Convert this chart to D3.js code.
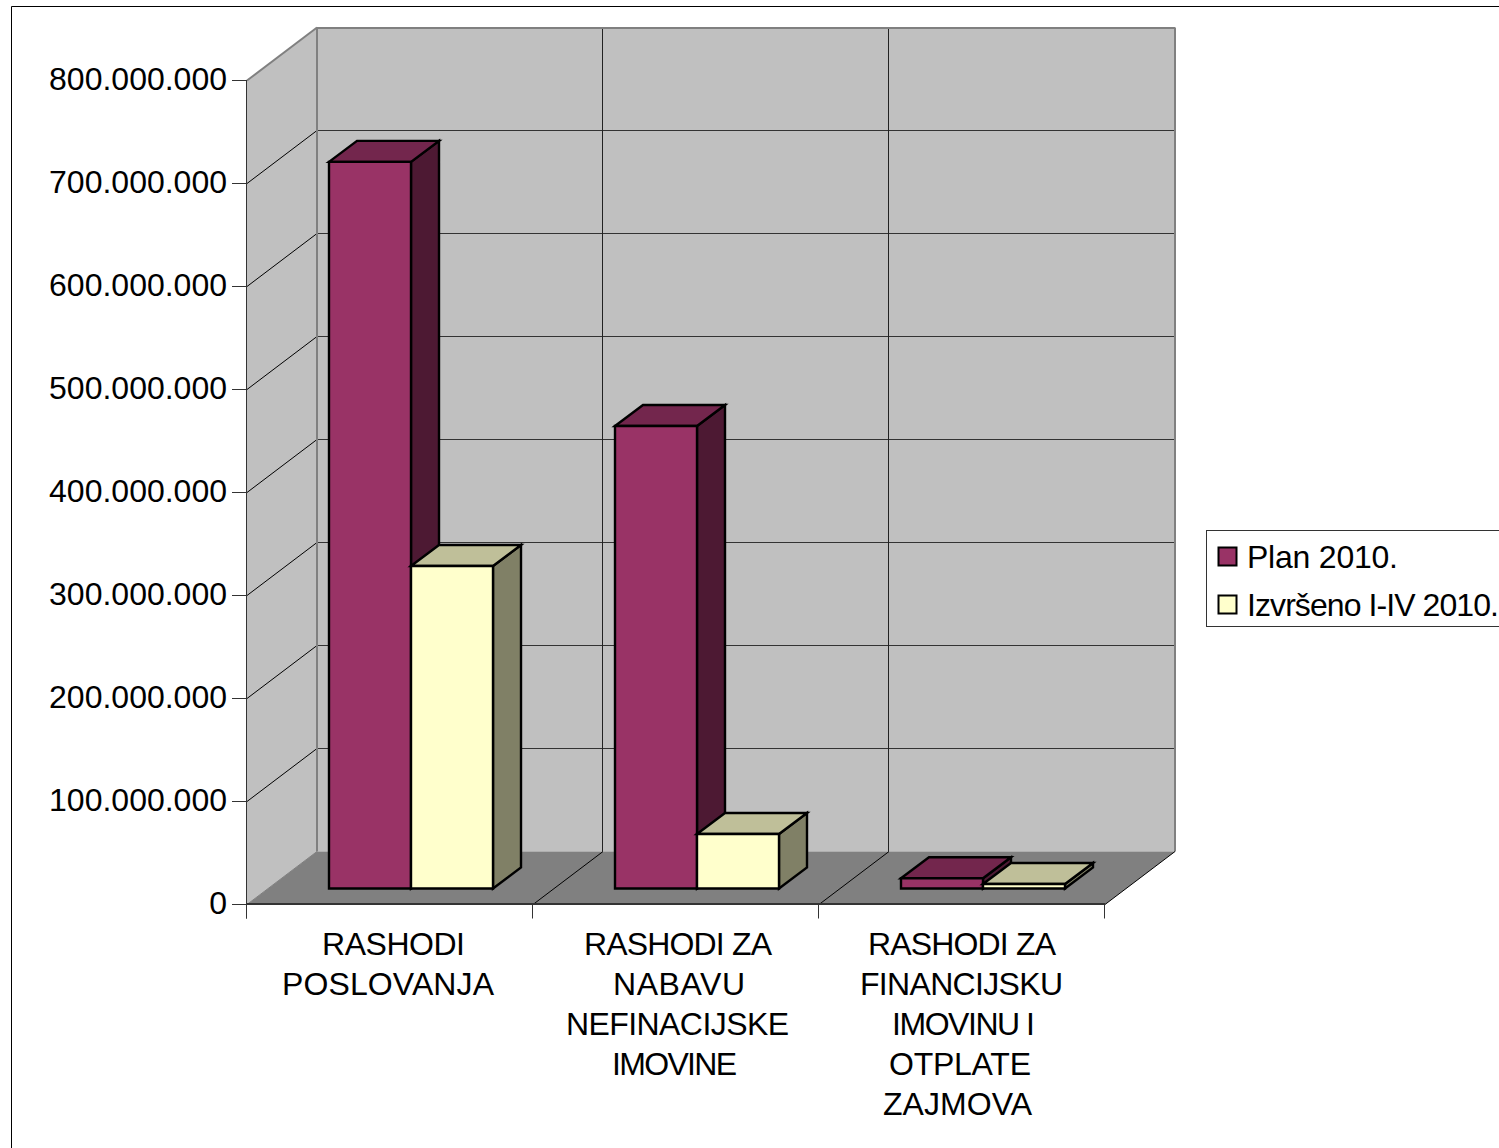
<!DOCTYPE html>
<html><head><meta charset="utf-8">
<script src="https://cdn.jsdelivr.net/npm/d3@7/dist/d3.min.js"></script>
<style>html,body{margin:0;padding:0;background:#fff;overflow:hidden}svg{display:block}text{font-family:"Liberation Sans",Arial,sans-serif;fill:#000}</style>
</head><body>
<script>
const categories = ["RASHODI POSLOVANJA","RASHODI ZA NABAVU NEFINACIJSKE IMOVINE","RASHODI ZA FINANCIJSKU IMOVINU I OTPLATE ZAJMOVA"];
const categoryLines = [["RASHODI","POSLOVANJA"],["RASHODI ZA","NABAVU","NEFINACIJSKE","IMOVINE"],["RASHODI ZA","FINANCIJSKU","IMOVINU I","OTPLATE","ZAJMOVA"]];
const seriesNames = ["Plan 2010.","Izvršeno I-IV 2010."];
const plan2010 = [705500000,449000000,9900000];
const izvrseno = [313100000,52900000,4400000];
const tickValues = [0,100000000,200000000,300000000,400000000,500000000,600000000,700000000,800000000];
const tickLabels = ["0","100.000.000","200.000.000","300.000.000","400.000.000","500.000.000","600.000.000","700.000.000","800.000.000"];

// label line placement: [left, width] per wrapped line
const categoryLineBoxes = [[[322,143],[282,212]],[[584,188],[613,132],[566,223],[612,125]],[[868,188],[860,203],[892,143],[889,142],[883,149]]];
const legendBoxes = [151,252];

const W=1499,H=1148;
const x0=247,x1=1105,yBase=904.5,yTop=80.5,DX=70,DY=53;
const y=d3.scaleLinear().domain([0,800000000]).range([yBase,yTop]);
const xBand=d3.scaleBand().domain(categories).range([x0,x1]);
const xSeries=d3.scaleBand().domain(seriesNames).range([61,225]);
const fills=[{f:"#993366",t:"#73264D",s:"#4D1933"},{f:"#FFFFCC",t:"#BFBF99",s:"#808066"}];
const svg=d3.select("body").append("svg").attr("width",W).attr("height",H);
const poly=(pts,fill,stroke,sw)=>svg.append("polygon").attr("points",pts.map(p=>p.join(",")).join(" ")).attr("fill",fill).attr("stroke",stroke||"none").attr("stroke-width",sw||0).attr("stroke-linejoin","miter");
const line=(a,b,c,sw)=>svg.append("line").attr("x1",a[0]).attr("y1",a[1]).attr("x2",b[0]).attr("y2",b[1]).attr("stroke",c).attr("stroke-width",sw);

// outer frame
svg.append("path").attr("d",`M${W},6.5H11.5V${H}`).attr("fill","none").attr("stroke","#000").attr("stroke-width",1);

// walls
poly([[x0,yTop],[x0+DX,yTop-DY],[x0+DX,yBase-DY],[x0,yBase]],"#C0C0C0");
poly([[x0+DX,yTop-DY],[x1+DX,yTop-DY],[x1+DX,yBase-DY],[x0+DX,yBase-DY]],"#C0C0C0");
poly([[x0,yBase],[x0+DX,yBase-DY],[x1+DX,yBase-DY],[x1,yBase]],"#808080");

// gridlines
tickValues.forEach((v,i)=>{
  if(i>0&&i<tickValues.length-1){
    line([x0,y(v)],[x0+DX,y(v)-DY],"#000",1);
    line([x0+DX,y(v)-DY],[x1+DX,y(v)-DY],"#333",1);
  }
});
categories.forEach((c,i)=>{
  if(i>0){
    const xx=xBand(c);
    line([xx+DX-.5,yTop-DY],[xx+DX-.5,yBase-DY],"#222",1);
    line([xx,yBase],[xx+DX,yBase-DY],"#000",1);
  }
});
// wall borders
line([x0,yTop],[x0+DX,yTop-DY],"#808080",2);
line([x0+DX,yTop-DY+.5],[x1+DX,yTop-DY+.5],"#808080",2);
line([x1+DX,yTop-DY],[x1+DX,yBase-DY],"#808080",2);
line([x0+DX,yTop-DY],[x0+DX,yBase-DY],"#808080",2);
line([x0,yBase],[x0+DX,yBase-DY],"#808080",1);
line([x1,yBase],[x1+DX,yBase-DY],"#000",1);

// axes
line([x0-.5,yTop],[x0-.5,yBase+14],"#333",1);
line([x0,yBase-.5],[x1,yBase-.5],"#333",2);
tickValues.forEach((v,i)=>{
  line([x0-15,y(v)],[x0,y(v)],"#333",1);
  svg.append("text").attr("x",227).attr("y",y(v)).attr("dy","0.31em").attr("text-anchor","end").attr("font-size",32).text(tickLabels[i]);
});
[...categories,null].forEach((c,i)=>{
  const xx=c?xBand(c):x1;
  line([xx-.5,yBase],[xx-.5,yBase+14],"#333",1);
});

// bars
const fx=21,fy=16,bx=28,by=21;
categories.forEach((c,ci)=>{
  [plan2010,izvrseno].forEach((vals,si)=>{
    const l=xBand(c)+fx+xSeries(seriesNames[si]), r=l+xSeries.bandwidth();
    const b=yBase-fy, t=y(vals[ci])-fy;
    const col=fills[si], sw=2.4;
    poly([[r,b],[r+bx,b-by],[r+bx,t-by],[r,t]],col.s,"#000",sw);
    poly([[l,t],[l+bx,t-by],[r+bx,t-by],[r,t]],col.t,"#000",sw);
    poly([[l,t],[r,t],[r,b],[l,b]],col.f,"#000",sw);
  });
});

// category labels
categoryLines.forEach((lines,i)=>{
  lines.forEach((s,j)=>{
    const [lx,lw]=categoryLineBoxes[i][j];
    svg.append("text").attr("x",lx).attr("y",955+j*40).attr("font-size",32)
      .attr("textLength",lw).attr("lengthAdjust","spacing").text(s);
  });
});

// legend
svg.append("rect").attr("x",1206.5).attr("y",530.5).attr("width",W).attr("height",96).attr("fill","#fff").attr("stroke","#333").attr("stroke-width",1);
seriesNames.forEach((s,i)=>{
  const cy=556.5+i*48;
  svg.append("rect").attr("x",1218.5).attr("y",cy-9).attr("width",18).attr("height",18).attr("fill",fills[i].f).attr("stroke","#000").attr("stroke-width",2);
  svg.append("text").attr("x",1247).attr("y",cy+11).attr("font-size",32).attr("textLength",legendBoxes[i]).attr("lengthAdjust","spacing").text(s);
});
</script>
</body></html>
